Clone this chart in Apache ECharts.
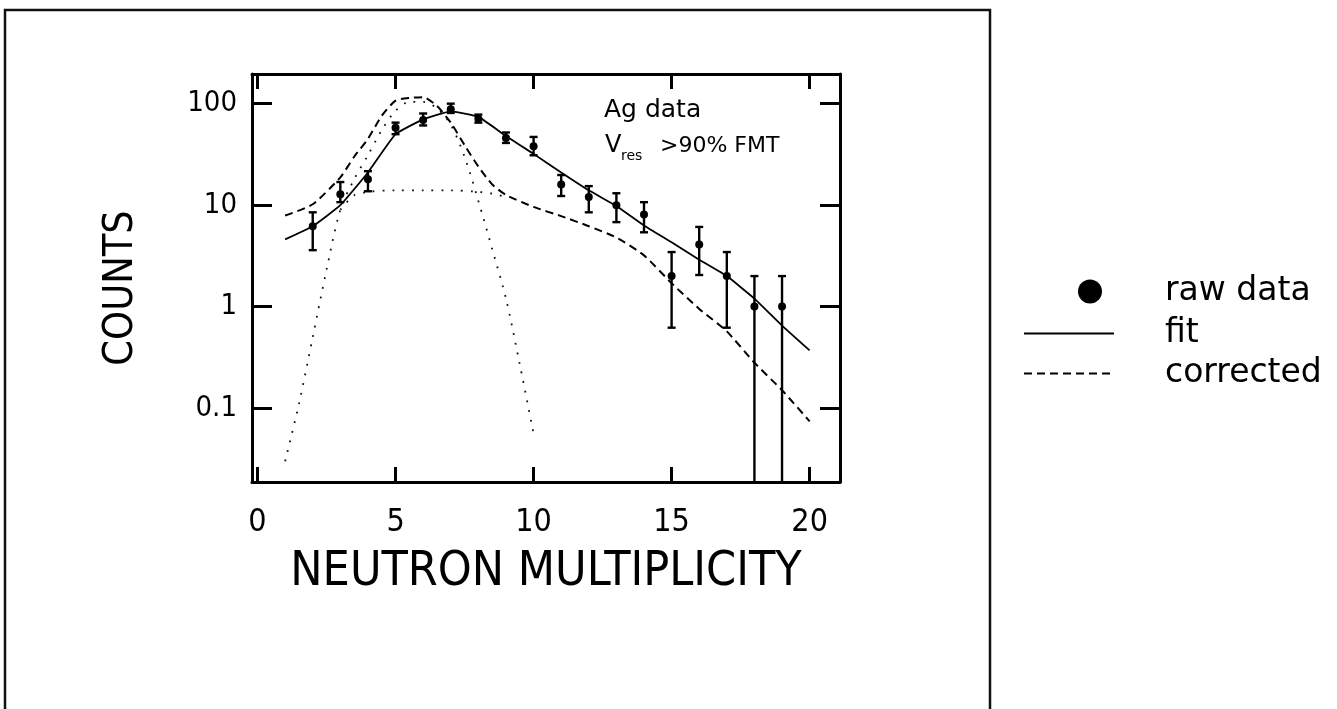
<!DOCTYPE html>
<html>
<head>
<meta charset="utf-8">
<title>Neutron multiplicity</title>
<script src="https://cdn.jsdelivr.net/npm/echarts@6/dist/echarts.min.js"></script>
<style>
  html, body { margin: 0; padding: 0; background: #fff; }
  #chart { width: 1337px; height: 709px; }
</style>
</head>
<body>
<div id="chart"></div>
<script>
// raw data with error bars
var rawX = [2, 3, 4, 5, 6, 7, 8, 9, 10, 11, 12, 13, 14, 15, 16, 17, 18, 19];
var rawY = [6.2, 12.8, 18, 58, 69, 88, 71, 46, 38, 16, 12, 10, 8.1, 2.0, 4.1, 2.0, 1.0, 1.0];
var rawLo = [3.6, 10.7, 13.7, 50, 61, 81, 65, 41, 31, 12.3, 8.5, 6.8, 5.4, 0.62, 2.05, 0.62, 0.01, 0.01];
var rawHi = [8.5, 16.9, 21.6, 65, 80, 100, 78, 52, 47, 19.8, 15.4, 13.1, 10.7, 3.45, 6.1, 3.45, 2.0, 2.0];

// fit (solid)
var fitX = [1, 2, 3, 4, 5, 6, 7, 8, 9, 10, 11, 12, 13, 14, 15, 16, 17, 18, 19, 20];
var fitY = [4.6, 6.2, 10, 21, 50, 70, 84, 74, 48, 32, 21, 14, 9.8, 6.3, 4.3, 2.9, 2.0, 1.2, 0.65, 0.37];

// corrected (dashed)
var corrX = [1, 2, 3, 3.5, 4, 4.5, 5, 5.5, 6, 6.5, 7, 7.5, 8, 8.5, 9, 10, 11, 12, 13, 14, 15, 16, 17, 18, 19, 20];
var corrY = [7.9, 10.2, 18.8, 30, 45, 76, 107, 114, 116, 95, 65, 39, 24, 16, 12.6, 9.6, 7.8, 6.2, 4.8, 3.2, 1.7, 0.95, 0.57, 0.28, 0.15, 0.074];

// dotted components
var peakX = [1, 1.5, 2, 2.5, 3, 3.5, 4, 4.5, 5, 5.5, 6, 6.5, 7, 7.5, 8, 8.5, 9, 9.5, 10];
var peakY = [0.03, 0.11, 0.5, 2.3, 9, 18, 31, 55, 85, 104, 104, 90, 62, 30, 11, 3.7, 1.2, 0.27, 0.056];
var shelfX = [3, 3.5, 4, 5, 6, 7, 8, 8.5, 9];
var shelfY = [9, 12.5, 13.5, 14, 14, 14, 13.5, 13, 12];

var xTickLabels = ['0', '5', '10', '15', '20'];
var yTickLabels = ['0.1', '1', '10', '100'];

var axisFont = '"Liberation Sans Narrow", "DejaVu Sans Condensed", "Liberation Sans", sans-serif';
var textFont = '"DejaVu Sans", sans-serif';

function pairs(xs, ys) {
  return xs.map(function (x, i) { return [x, ys[i]]; });
}

function isTick(v, labels) {
  return labels.some(function (t) { return Math.abs(v - Number(t)) < 1e-6 * Math.max(1, Number(t)); });
}

var chart = echarts.init(document.getElementById('chart'));

var axisLine = { onZero: false, lineStyle: { color: '#000', width: 3 } };
var legendText = { fontFamily: textFont, fontSize: 33, color: '#000' };

var option = {
  animation: false,
  backgroundColor: '#fff',
  grid: { left: 252, top: 74, width: 588, height: 408 },
  legend: [
    {
      data: [{ name: 'raw data', icon: 'circle' }],
      left: 1073, top: 270,
      itemWidth: 24, itemHeight: 24,
      textStyle: Object.assign({ padding: [0, 0, 0, 58] }, legendText)
    },
    {
      data: ['fit'],
      left: 1018, top: 312,
      itemWidth: 90, itemHeight: 22,
      itemStyle: { opacity: 0 },
      textStyle: Object.assign({ padding: [0, 0, 0, 46] }, legendText)
    },
    {
      data: ['corrected'],
      left: 1018, top: 352,
      itemWidth: 90, itemHeight: 22,
      itemStyle: { opacity: 0 },
      textStyle: Object.assign({ padding: [0, 0, 0, 46] }, legendText)
    }
  ],
  xAxis: [
    {
      type: 'value', min: -0.2, max: 21.1, splitNumber: 4,
      position: 'bottom',
      axisLine: axisLine,
      axisTick: { inside: true, length: 15, lineStyle: { color: '#000', width: 3 } },
      splitLine: { show: false },
      axisLabel: {
        margin: 25, color: '#000', fontFamily: axisFont, fontSize: 32,
        showMinLabel: false, showMaxLabel: false,
        formatter: function (v) { return isTick(v, xTickLabels) ? String(v) : ''; }
      },
      name: 'NEUTRON MULTIPLICITY',
      nameLocation: 'middle',
      nameGap: 67,
      nameTextStyle: { fontFamily: axisFont, fontSize: 48, color: '#000' }
    },
    {
      type: 'value', min: -0.2, max: 21.1, splitNumber: 4,
      position: 'top',
      axisLine: axisLine,
      axisTick: { inside: true, length: 15, lineStyle: { color: '#000', width: 3 } },
      splitLine: { show: false },
      axisLabel: { show: false }
    }
  ],
  yAxis: [
    {
      type: 'log', logBase: 10, min: 0.0187, max: 196,
      position: 'left',
      axisLine: axisLine,
      axisTick: { inside: true, length: 20, lineStyle: { color: '#000', width: 3 } },
      minorTick: { show: false },
      splitLine: { show: false },
      axisLabel: {
        margin: 15, color: '#000', fontFamily: axisFont, fontSize: 29,
        showMinLabel: false, showMaxLabel: false,
        formatter: function (v) { return isTick(v, yTickLabels) ? String(v) : ''; }
      },
      name: 'COUNTS',
      nameLocation: 'middle',
      nameGap: 110,
      nameRotate: 90,
      nameTextStyle: { fontFamily: axisFont, fontSize: 41, color: '#000', padding: [0, 20, 0, 0] }
    },
    {
      type: 'log', logBase: 10, min: 0.0187, max: 196,
      position: 'right',
      axisLine: axisLine,
      axisTick: { inside: true, length: 20, lineStyle: { color: '#000', width: 3 } },
      splitLine: { show: false },
      axisLabel: { show: false }
    }
  ],
  graphic: [
    {
      type: 'rect', silent: true, z: 0,
      shape: { x: 5, y: 10, width: 985, height: 720 },
      style: { fill: 'none', stroke: '#111', lineWidth: 2.5 }
    },
    {
      type: 'text', left: 604, top: 98,
      style: { text: 'Ag data', font: '25px ' + textFont, fill: '#000' }
    },
    {
      type: 'text', left: 605, top: 134,
      style: { text: 'V', font: '24px ' + textFont, fill: '#000' }
    },
    {
      type: 'text', left: 621, top: 149,
      style: { text: 'res', font: '14px ' + textFont, fill: '#000' }
    },
    {
      type: 'text', left: 660, top: 135,
      style: { text: '>90% FMT', font: '22px ' + textFont, fill: '#000' }
    }
  ],
  series: [
    {
      name: 'peak', type: 'line', data: pairs(peakX, peakY),
      symbol: 'none', smooth: 0.3, silent: true,
      lineStyle: { color: '#111', width: 1.8, type: [1.8, 8] }
    },
    {
      name: 'shelf', type: 'line', data: pairs(shelfX, shelfY),
      symbol: 'none', smooth: 0.3, silent: true,
      lineStyle: { color: '#111', width: 1.8, type: [1.8, 8] }
    },
    {
      name: 'corrected', type: 'line', data: pairs(corrX, corrY),
      symbol: 'none', smooth: 0.2,
      itemStyle: { color: '#000' },
      lineStyle: { color: '#000', width: 2, type: [8, 5] }
    },
    {
      name: 'fit', type: 'line', data: pairs(fitX, fitY),
      symbol: 'none', smooth: 0.12,
      itemStyle: { color: '#000' },
      lineStyle: { color: '#000', width: 1.8 }
    },
    {
      name: 'errors', type: 'custom', clip: true,
      data: rawX.map(function (x, i) { return [x, rawLo[i], rawHi[i]]; }),
      encode: { x: 0, y: [1, 2] },
      renderItem: function (params, api) {
        var x = api.value(0);
        var lo = api.coord([x, api.value(1)]);
        var hi = api.coord([x, api.value(2)]);
        var w = 4;
        var st = { stroke: '#000', lineWidth: 2.4 };
        return {
          type: 'group',
          children: [
            { type: 'line', shape: { x1: lo[0], y1: lo[1], x2: hi[0], y2: hi[1] }, style: st },
            { type: 'line', shape: { x1: hi[0] - w, y1: hi[1], x2: hi[0] + w, y2: hi[1] }, style: st },
            { type: 'line', shape: { x1: lo[0] - w, y1: lo[1], x2: lo[0] + w, y2: lo[1] }, style: st }
          ]
        };
      }
    },
    {
      name: 'raw data', type: 'scatter', data: pairs(rawX, rawY),
      symbol: 'circle', symbolSize: 8,
      itemStyle: { color: '#000', opacity: 1 }
    }
  ]
};

chart.setOption(option);
</script>
</body>
</html>
